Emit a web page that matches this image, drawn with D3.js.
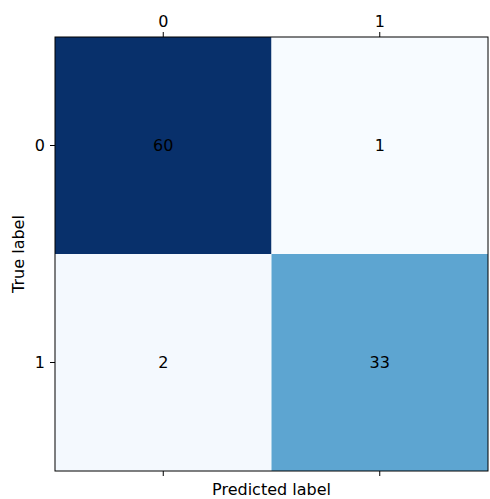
<!DOCTYPE html>
<html>
<head>
<meta charset="utf-8">
<script src="https://cdn.jsdelivr.net/npm/d3@7"></script>
<style>
  body { margin: 0; background: #fff; }
  svg text { font-family: "DejaVu Sans", sans-serif; font-size: 16px; fill: #000; }
</style>
</head>
<body>
<div id="chart"></div>
<script>
// data
const predictedLabels = ["0", "1"];
const trueLabels = ["0", "1"];
const counts = [
  [60, 1],
  [2, 33]
];

// matplotlib "Blues" colour stops
const bluesStops = ["#f7fbff", "#deebf7", "#c6dbef", "#9ecae1", "#6baed6", "#4292c6", "#2171b5", "#08519c", "#08306b"];

const width = 490, height = 499;
const margin = {top: 37, right: 2, bottom: 28, left: 55};

let svg = d3.select("#chart").append("svg")
  .attr("width", width)
  .attr("height", height);

let g = svg.append("g").attr("transform", `translate(${margin.left},${margin.top})`);

const plotW = width - margin.left - margin.right;
const plotH = height - margin.top - margin.bottom;

let xScale = d3.scaleBand().domain(predictedLabels).range([0, plotW]);
let yScale = d3.scaleBand().domain(trueLabels).range([0, plotH]);

let cells = [];
counts.forEach((row, i) => row.forEach((v, j) => cells.push({t: trueLabels[i], p: predictedLabels[j], v: v})));

const vmin = d3.min(cells, d => d.v), vmax = d3.max(cells, d => d.v);
let color = d3.scaleLinear()
  .domain(bluesStops.map((c, i) => vmin + (vmax - vmin) * i / (bluesStops.length - 1)))
  .range(bluesStops)
  .interpolate(d3.interpolateRgb);

//cells
g.selectAll("rect.cell").data(cells).enter().append("rect")
  .attr("class", "cell")
  .attr("x", d => xScale(d.p))
  .attr("y", d => yScale(d.t))
  .attr("width", xScale.bandwidth())
  .attr("height", yScale.bandwidth())
  .attr("fill", d => color(d.v));

//values
g.selectAll("text.val").data(cells).enter().append("text")
  .attr("class", "val")
  .attr("x", d => xScale(d.p) + xScale.bandwidth() / 2)
  .attr("y", d => yScale(d.t) + yScale.bandwidth() / 2)
  .attr("text-anchor", "middle")
  .attr("dominant-baseline", "central")
  .text(d => d.v);

//axes
let topAxis = g.append("g").call(d3.axisTop(xScale).tickSize(5).tickPadding(5));
let bottomAxis = g.append("g").attr("transform", `translate(0,${plotH})`)
  .call(d3.axisBottom(xScale).tickSize(5).tickFormat(""));
let leftAxis = g.append("g").call(d3.axisLeft(yScale).tickSize(5).tickPadding(5));

[topAxis, bottomAxis, leftAxis].forEach(a => {
  a.select(".domain").remove();
  a.selectAll("line").attr("stroke", "#000").attr("stroke-width", 1);
  a.selectAll("text").style("font-size", "16px").style("font-family", "DejaVu Sans, sans-serif");
});

//frame
g.append("rect")
  .attr("width", plotW).attr("height", plotH)
  .attr("fill", "none").attr("stroke", "#000").attr("stroke-width", 1);

//axis titles
svg.append("text")
  .attr("x", margin.left + plotW / 2)
  .attr("y", height - 4)
  .attr("text-anchor", "middle")
  .text("Predicted label");

svg.append("text")
  .attr("transform", `translate(24,${margin.top + plotH / 2}) rotate(-90)`)
  .attr("text-anchor", "middle")
  .text("True label");
</script>
</body>
</html>
